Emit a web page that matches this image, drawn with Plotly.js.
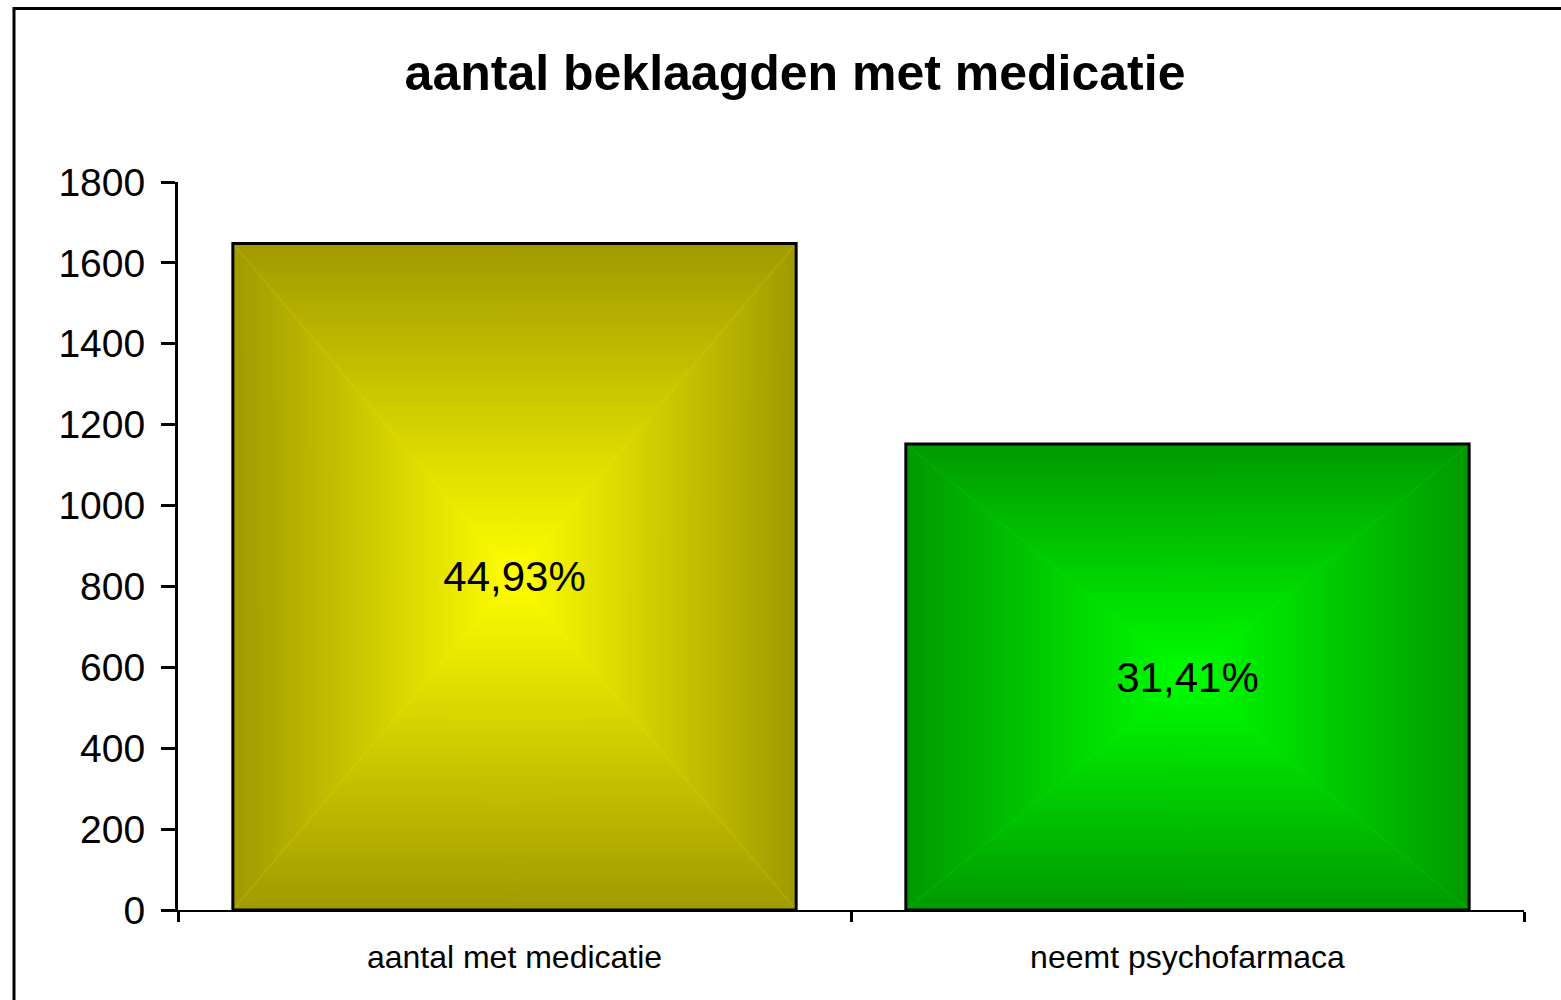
<!DOCTYPE html>
<html>
<head>
<meta charset="utf-8">
<script src="https://cdn.plot.ly/plotly-3.0.1.min.js"></script>
<style>
  html, body { margin: 0; padding: 0; background: #ffffff; }
  #chart { width: 1561px; height: 1000px; }
</style>
</head>
<body>
<div id="chart"></div>
<script>
// ---- data ----
const categories = ['aantal met medicatie', 'neemt psychofarmaca'];
const counts = [1648, 1152];
const percentLabels = ['44,93%', '31,41%'];
const edgeColors = ['#a09a00', '#009900'];
const centerColors = ['#ffff00', '#00ff00'];
const yTickValues = [0, 200, 400, 600, 800, 1000, 1200, 1400, 1600, 1800];
const chartTitle = 'aantal beklaagden met medicatie';

const FONT = 'Liberation Sans, Arial, Helvetica, sans-serif';

const trace = {
  type: 'bar',
  x: categories,
  y: counts,
  text: percentLabels,
  textposition: 'inside',
  insidetextanchor: 'middle',
  textangle: 0,
  constraintext: 'none',
  textfont: { family: FONT, size: 42, color: '#000000' },
  insidetextfont: { family: FONT, size: 42, color: '#000000' },
  marker: { color: edgeColors, line: { color: '#000000', width: 3 } },
  hoverinfo: 'none'
};

const layout = {
  width: 1561,
  height: 1000,
  paper_bgcolor: '#ffffff',
  plot_bgcolor: '#ffffff',
  margin: { l: 178, r: 37, t: 182, b: 90, pad: 0 },
  showlegend: false,
  bargap: 0.163,
  font: { family: FONT, color: '#000000' },
  title: {
    text: chartTitle,
    font: { family: FONT, size: 50, weight: 'bold', color: '#000000' },
    xref: 'container', yref: 'container',
    x: 0.5093, xanchor: 'center',
    y: 0.9275, yanchor: 'middle'
  },
  xaxis: {
    type: 'category',
    showline: true, linecolor: '#000000', linewidth: 2,
    showgrid: false, zeroline: false,
    ticks: 'outside', tickson: 'boundaries', ticklen: 10, tickwidth: 3, tickcolor: '#000000',
    tickfont: { family: FONT, size: 32, color: '#000000' },
    ticklabelstandoff: 18,
    fixedrange: true
  },
  yaxis: {
    range: [0, 1800],
    tickmode: 'array',
    tickvals: yTickValues,
    ticktext: yTickValues.map(String),
    showline: true, linecolor: '#000000', linewidth: 3,
    showgrid: false, zeroline: false,
    ticks: 'outside', ticklen: 14, tickwidth: 3, tickcolor: '#000000',
    tickfont: { family: FONT, size: 39, color: '#000000' },
    ticklabelstandoff: 8,
    fixedrange: true
  },
  shapes: [
    // outer chart frame (only top and left edges fall inside the picture)
    {
      type: 'rect', xref: 'paper', yref: 'paper', layer: 'above',
      x0: (14 - 178) / 1346, x1: (1620 - 178) / 1346,
      y0: (910 - 1020) / 728, y1: (910 - 8.5) / 728,
      line: { color: '#000000', width: 3 }, fillcolor: 'rgba(0,0,0,0)'
    }
  ]
};

function svgEl(tag, attrs) {
  const el = document.createElementNS('http://www.w3.org/2000/svg', tag);
  for (const k in attrs) el.setAttribute(k, attrs[k]);
  return el;
}

function linGrad(defs, id, x1, y1, x2, y2, c1, c2) {
  const g = svgEl('linearGradient', { id: id, x1: x1, y1: y1, x2: x2, y2: y2 });
  g.appendChild(svgEl('stop', { offset: '0', 'stop-color': c1 }));
  g.appendChild(svgEl('stop', { offset: '1', 'stop-color': c2 }));
  defs.appendChild(g);
}

// rectangular "from center" gradient: four triangles, each with a linear ramp edge -> center
function makeCenterPattern(defs, id, edge, center) {
  linGrad(defs, id + '-t', 0, 0, 0, 1, edge, center);
  linGrad(defs, id + '-b', 0, 0, 0, 1, center, edge);
  linGrad(defs, id + '-l', 0, 0, 1, 0, edge, center);
  linGrad(defs, id + '-r', 0, 0, 1, 0, center, edge);
  const p = svgEl('pattern', {
    id: id, patternUnits: 'objectBoundingBox', patternContentUnits: 'objectBoundingBox',
    x: 0, y: 0, width: 1, height: 1
  });
  p.appendChild(svgEl('rect', { x: 0, y: 0, width: 1, height: 1, fill: center }));
  p.appendChild(svgEl('polygon', { points: '0,0 1,0 0.5,0.5', fill: 'url(#' + id + '-t)' }));
  p.appendChild(svgEl('polygon', { points: '0,1 1,1 0.5,0.5', fill: 'url(#' + id + '-b)' }));
  p.appendChild(svgEl('polygon', { points: '0,0 0,1 0.5,0.5', fill: 'url(#' + id + '-l)' }));
  p.appendChild(svgEl('polygon', { points: '1,0 1,1 0.5,0.5', fill: 'url(#' + id + '-r)' }));
  defs.appendChild(p);
}

const gd = document.getElementById('chart');
Plotly.newPlot(gd, [trace], layout, { displayModeBar: false, staticPlot: true }).then(function () {
  const svg = gd.querySelector('svg.main-svg');
  let defs = svg.querySelector('defs');
  if (!defs) { defs = svgEl('defs', {}); svg.insertBefore(defs, svg.firstChild); }
  const paths = gd.querySelectorAll('.bars .point path');
  paths.forEach(function (path, i) {
    const id = 'centerFill' + i;
    makeCenterPattern(defs, id, edgeColors[i], centerColors[i]);
    path.style.fill = 'url(#' + id + ')';
  });
});
</script>
</body>
</html>
